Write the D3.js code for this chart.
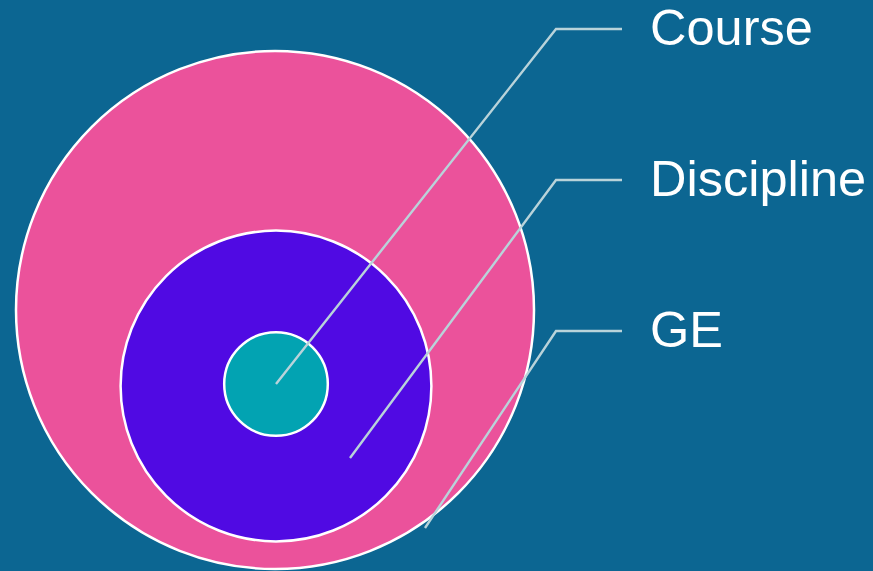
<!DOCTYPE html>
<html>
<head>
<meta charset="utf-8">
<script src="https://cdn.jsdelivr.net/npm/d3@7"></script>
<style>
  html, body { margin: 0; padding: 0; background: #0c6692; }
  svg { display: block; }
</style>
</head>
<body>
<div id="chart"></div>
<script>
// nested categories, outer to inner
const categories = ['GE', 'Discipline', 'Course'];
const sizes = [100, 36, 4];
const colors = ['#eb529b', '#500ae3', '#02a3b2'];

const width = 873, height = 571;

const svg = d3.select('#chart').append('svg')
        .attr('width', width)
        .attr('height', height);

svg.append('rect').attr('width', width).attr('height', height).attr('fill', '#0c6692');

const r = d3.scaleSqrt().domain([0, 100]).range([0, 259]);

// circle centres and where each leader line starts
const centres = { GE: [275, 310], Discipline: [276, 386], Course: [276, 384] };
const anchors = { GE: [425, 528], Discipline: [350, 458], Course: [276, 384] };

const labelY = d3.scalePoint().domain(['Course', 'Discipline', 'GE']).range([29, 331]);

const data = categories.map((c, i) => ({ name: c, value: sizes[i], color: colors[i] }));

svg.selectAll('circle.bubble')
        .data(data)
        .join('circle')
        .attr('class', 'bubble')
        .attr('cx', d => centres[d.name][0])
        .attr('cy', d => centres[d.name][1])
        .attr('r', d => r(d.value))
        .attr('fill', d => d.color)
        .attr('stroke', '#ffffff')
        .attr('stroke-width', 2.5);

const elbowX = 556, endX = 622;

svg.selectAll('path.leader')
        .data(data)
        .join('path')
        .attr('class', 'leader')
        .attr('d', d => {
                const p = d3.path();
                p.moveTo(anchors[d.name][0], anchors[d.name][1]);
                p.lineTo(elbowX, labelY(d.name));
                p.lineTo(endX, labelY(d.name));
                return p.toString();
        })
        .attr('fill', 'none')
        .attr('stroke', '#b9d3da')
        .attr('stroke-width', 2.4);

svg.selectAll('text.label')
        .data(data)
        .join('text')
        .attr('class', 'label')
        .attr('x', 650)
        .attr('y', d => labelY(d.name) + 16)
        .attr('fill', '#ffffff')
        .attr('font-family', '"Liberation Sans", Arial, sans-serif')
        .attr('font-size', 50.5)
        .text(d => d.name);
</script>
</body>
</html>
